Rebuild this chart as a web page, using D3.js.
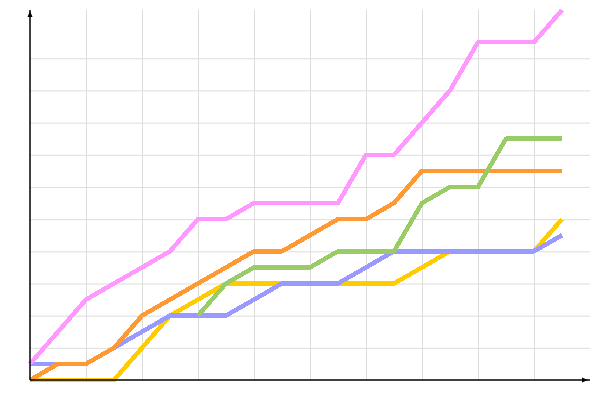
<!DOCTYPE html>
<html>
<head>
<meta charset="utf-8">
<script src="https://cdn.jsdelivr.net/npm/d3@7"></script>
<style>
  body { margin: 0; background: #fff; }
</style>
</head>
<body>
<svg id="chart"></svg>
<script>
const width = 600;
const height = 400;

// one value per step, null where a series has no data
const steps = d3.range(20);
const yellowVals = [0, 0, 0, 0, 2, 4, 5, 6, 6, 6, 6, 6, 6, 6, 7, 8, 8, 8, 8, 10];
const purpleVals = [1, 1, 1, 2, 3, 4, 4, 4, 5, 6, 6, 6, 7, 8, 8, 8, 8, 8, 8, 9];
const orangeVals = [0, 1, 1, 2, 4, 5, 6, 7, 8, 8, 9, 10, 10, 11, 13, 13, 13, 13, 13, 13];
const greenVals = [null, null, null, null, null, null, 4, 6, 7, 7, 7, 8, 8, 8, 11, 12, 12, 15, 15, 15];
const pinkVals = [1, 3, 5, 6, 7, 8, 10, 10, 11, 11, 11, 11, 14, 14, 16, 18, 21, 21, 21, 23];

const xGridTicks = [2, 4, 6, 8, 10, 12, 14, 16, 18];
const yGridTicks = [2, 4, 6, 8, 10, 12, 14, 16, 18, 20];

// drawing order matters: later series sit on top
const series = [
    { values: yellowVals, color: '#ffcc00' },
    { values: purpleVals, color: '#9999ff' },
    { values: orangeVals, color: '#ff9933' },
    { values: greenVals, color: '#99cc66' },
    { values: pinkVals, color: '#ff99ff' }
];

const plotLeft = 30, plotRight = 590, plotTop = 10, plotBottom = 380;

const x = d3.scaleLinear().domain([0, 20]).range([plotLeft, plotRight]);
const y = d3.scaleLinear().domain([0, 23]).range([plotBottom, plotTop]);

const svg = d3.select('#chart')
    .attr('width', width)
    .attr('height', height);

// grid
svg.append('g')
    .attr('transform', `translate(0,${plotBottom})`)
    .call(d3.axisBottom(x).tickValues(xGridTicks).tickSize(-(plotBottom - plotTop)).tickFormat(''))
    .call(g => g.select('.domain').remove())
    .selectAll('line')
    .attr('stroke', '#dddddd')
    .attr('stroke-width', 1);

svg.append('g')
    .attr('transform', `translate(${plotLeft},0)`)
    .call(d3.axisLeft(y).tickValues(yGridTicks).tickSize(-(plotRight - plotLeft)).tickFormat(''))
    .call(g => g.select('.domain').remove())
    .selectAll('line')
    .attr('stroke', '#dddddd')
    .attr('stroke-width', 1);

// lines (reference is drawn without anti-aliasing)
const line = d3.line()
    .defined(d => d.v !== null)
    .x(d => x(d.i))
    .y(d => y(d.v));

svg.selectAll('.series')
    .data(series)
    .enter().append('path')
    .attr('class', 'series')
    .attr('fill', 'none')
    .attr('stroke', d => d.color)
    .attr('stroke-width', 4.5)
    .attr('stroke-linejoin', 'round')
    .attr('shape-rendering', 'crispEdges')
    .attr('d', d => line(steps.map(i => ({ i: i, v: d.values[i] }))));

// axes with small arrow heads
svg.append('line')
    .attr('x1', plotLeft).attr('y1', plotBottom)
    .attr('x2', plotLeft).attr('y2', plotTop)
    .attr('stroke', '#000').attr('stroke-width', 1.5);

svg.append('line')
    .attr('x1', plotLeft).attr('y1', plotBottom)
    .attr('x2', plotRight).attr('y2', plotBottom)
    .attr('stroke', '#000').attr('stroke-width', 1.5);

svg.append('path')
    .attr('d', `M${plotLeft},${plotTop + 1}L${plotLeft - 2.5},${plotTop + 7}L${plotLeft + 2.5},${plotTop + 7}Z`)
    .attr('fill', '#000');

svg.append('path')
    .attr('d', `M${plotRight - 2},${plotBottom}L${plotRight - 8},${plotBottom - 2.5}L${plotRight - 8},${plotBottom + 2.5}Z`)
    .attr('fill', '#000');
</script>
</body>
</html>
